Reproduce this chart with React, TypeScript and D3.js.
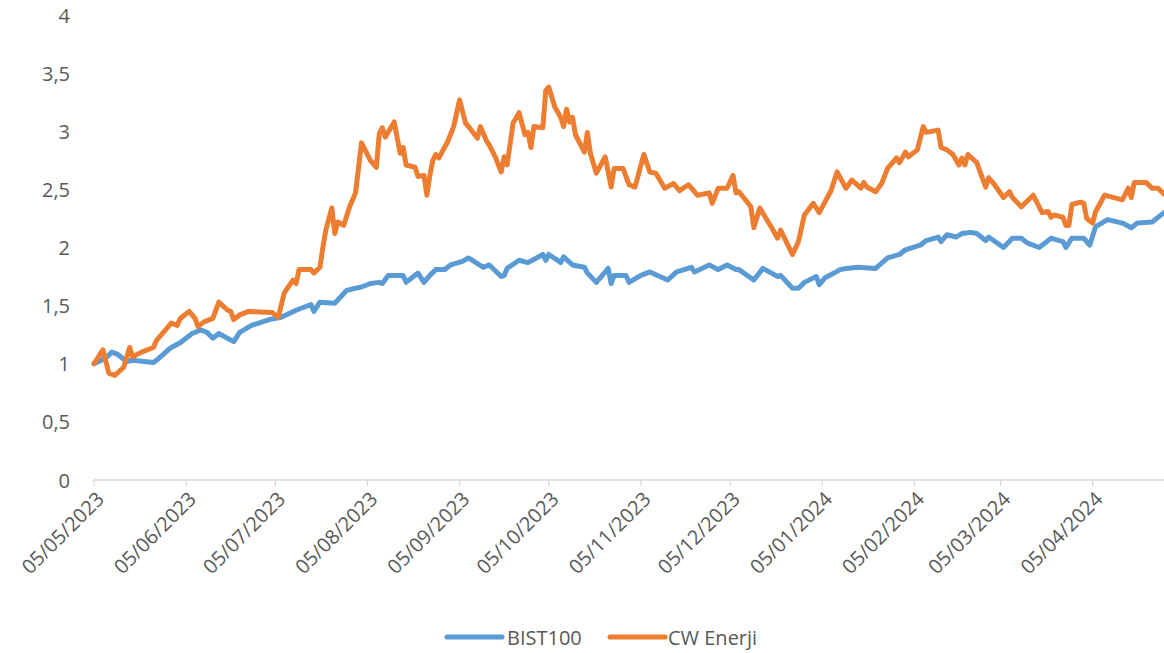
import React from "react";
import * as d3 from "d3";

const seriesNames = ["BIST100", "CW Enerji"];
const seriesColors = ["#5B9BD5", "#ED7D31"];
const yTickValues = [0, 0.5, 1, 1.5, 2, 2.5, 3, 3.5, 4];

const bistDates = [
  "2023-05-05","2023-05-09","2023-05-11","2023-05-13","2023-05-16","2023-05-18","2023-05-25","2023-05-26","2023-05-30","2023-05-31",
  "2023-06-03","2023-06-07","2023-06-10","2023-06-12","2023-06-14","2023-06-16","2023-06-21","2023-06-23","2023-06-27","2023-07-03",
  "2023-07-07","2023-07-12","2023-07-17","2023-07-18","2023-07-20","2023-07-25","2023-07-29","2023-08-01","2023-08-03","2023-08-06",
  "2023-08-09","2023-08-10","2023-08-12","2023-08-17","2023-08-18","2023-08-22","2023-08-24","2023-08-26","2023-08-28","2023-08-31",
  "2023-09-02","2023-09-06","2023-09-08","2023-09-13","2023-09-15","2023-09-19","2023-09-20","2023-09-21","2023-09-25","2023-09-28",
  "2023-10-03","2023-10-04","2023-10-05","2023-10-08","2023-10-09","2023-10-10","2023-10-13","2023-10-17","2023-10-18","2023-10-21",
  "2023-10-25","2023-10-26","2023-10-27","2023-10-31","2023-11-01","2023-11-05","2023-11-08","2023-11-14","2023-11-17","2023-11-22",
  "2023-11-23","2023-11-28","2023-12-01","2023-12-04","2023-12-07","2023-12-08","2023-12-13","2023-12-16","2023-12-21","2023-12-22",
  "2023-12-26","2023-12-28","2023-12-30","2024-01-03","2024-01-04","2024-01-06","2024-01-09","2024-01-11","2024-01-13","2024-01-17",
  "2024-01-23","2024-01-27","2024-01-31","2024-02-02","2024-02-07","2024-02-09","2024-02-13","2024-02-14","2024-02-16","2024-02-19",
  "2024-02-21","2024-02-24","2024-02-26","2024-02-29","2024-03-01","2024-03-06","2024-03-09","2024-03-12","2024-03-14","2024-03-18",
  "2024-03-22","2024-03-26","2024-03-27","2024-03-29","2024-04-02","2024-04-04","2024-04-06","2024-04-10","2024-04-15","2024-04-18",
  "2024-04-20","2024-04-25","2024-04-29"
];
const bistValues = [
  1.00,1.05,1.10,1.08,1.02,1.03,1.01,1.03,1.12,1.14,
  1.18,1.26,1.29,1.27,1.22,1.26,1.19,1.27,1.33,1.38,
  1.40,1.46,1.51,1.45,1.53,1.52,1.63,1.65,1.66,1.69,
  1.70,1.69,1.76,1.76,1.70,1.78,1.70,1.76,1.81,1.81,
  1.85,1.88,1.91,1.83,1.85,1.75,1.76,1.82,1.89,1.87,
  1.94,1.89,1.94,1.89,1.87,1.92,1.85,1.83,1.78,1.70,
  1.82,1.69,1.76,1.76,1.70,1.76,1.79,1.72,1.79,1.83,
  1.79,1.85,1.81,1.85,1.81,1.81,1.72,1.82,1.75,1.76,
  1.65,1.65,1.70,1.75,1.68,1.74,1.78,1.81,1.82,1.83,
  1.82,1.91,1.94,1.98,2.02,2.06,2.09,2.05,2.11,2.09,
  2.12,2.13,2.12,2.06,2.09,2.00,2.08,2.08,2.04,2.00,
  2.08,2.05,2.00,2.08,2.08,2.02,2.18,2.24,2.21,2.17,
  2.21,2.22,2.30
];

const cwDates = [
  "2023-05-05","2023-05-08","2023-05-10","2023-05-12","2023-05-15","2023-05-17","2023-05-18","2023-05-21","2023-05-25","2023-05-26",
  "2023-05-31","2023-06-02","2023-06-03","2023-06-06","2023-06-08","2023-06-09","2023-06-11","2023-06-14","2023-06-16","2023-06-19",
  "2023-06-20","2023-06-21","2023-06-23","2023-06-26","2023-07-04","2023-07-06","2023-07-08","2023-07-11","2023-07-12","2023-07-13",
  "2023-07-17","2023-07-18","2023-07-20","2023-07-21","2023-07-22","2023-07-24","2023-07-25","2023-07-26","2023-07-28","2023-07-30",
  "2023-08-01","2023-08-03","2023-08-06","2023-08-08","2023-08-09","2023-08-10","2023-08-11","2023-08-14","2023-08-16","2023-08-17",
  "2023-08-18","2023-08-21","2023-08-22","2023-08-24","2023-08-25","2023-08-26","2023-08-27","2023-08-28","2023-08-29","2023-09-01",
  "2023-09-03","2023-09-05","2023-09-07","2023-09-08","2023-09-11","2023-09-12","2023-09-14","2023-09-15","2023-09-17","2023-09-19",
  "2023-09-20","2023-09-21","2023-09-23","2023-09-25","2023-09-27","2023-09-28","2023-09-29","2023-09-30","2023-10-03","2023-10-04",
  "2023-10-05","2023-10-07","2023-10-09","2023-10-10","2023-10-11","2023-10-12","2023-10-13","2023-10-14","2023-10-17","2023-10-18",
  "2023-10-19","2023-10-21","2023-10-24","2023-10-26","2023-10-27","2023-10-30","2023-11-01","2023-11-03","2023-11-06","2023-11-08",
  "2023-11-10","2023-11-13","2023-11-16","2023-11-18","2023-11-21","2023-11-24","2023-11-28","2023-11-29","2023-12-01","2023-12-04",
  "2023-12-06","2023-12-07","2023-12-08","2023-12-12","2023-12-13","2023-12-15","2023-12-19","2023-12-21","2023-12-22","2023-12-26",
  "2023-12-28","2023-12-30","2024-01-02","2024-01-04","2024-01-08","2024-01-10","2024-01-13","2024-01-15","2024-01-18","2024-01-19",
  "2024-01-20","2024-01-23","2024-01-25","2024-01-27","2024-01-30","2024-01-31","2024-02-02","2024-02-03","2024-02-06","2024-02-08",
  "2024-02-09","2024-02-13","2024-02-14","2024-02-16","2024-02-18","2024-02-20","2024-02-21","2024-02-22","2024-02-23","2024-02-26",
  "2024-02-29","2024-03-01","2024-03-03","2024-03-06","2024-03-08","2024-03-09","2024-03-12","2024-03-16","2024-03-19","2024-03-21",
  "2024-03-22","2024-03-23","2024-03-26","2024-03-27","2024-03-28","2024-03-29","2024-04-01","2024-04-02","2024-04-03","2024-04-05",
  "2024-04-06","2024-04-09","2024-04-15","2024-04-17","2024-04-18","2024-04-19","2024-04-23","2024-04-25","2024-04-27","2024-04-29"
];
const cwValues = [
  1.00,1.12,0.92,0.90,0.97,1.14,1.06,1.10,1.14,1.20,
  1.35,1.33,1.39,1.45,1.39,1.32,1.36,1.39,1.53,1.46,
  1.45,1.38,1.42,1.45,1.44,1.40,1.61,1.72,1.69,1.81,
  1.81,1.78,1.83,2.00,2.15,2.34,2.12,2.22,2.19,2.35,
  2.47,2.90,2.75,2.69,2.98,3.03,2.95,3.08,2.81,2.86,
  2.71,2.69,2.61,2.62,2.45,2.62,2.75,2.80,2.77,2.91,
  3.04,3.27,3.07,3.04,2.94,3.04,2.92,2.88,2.78,2.65,
  2.78,2.71,3.07,3.16,2.97,2.99,2.86,3.04,3.03,3.35,
  3.38,3.21,3.12,3.04,3.19,3.08,3.12,2.97,2.82,2.99,
  2.81,2.64,2.78,2.52,2.68,2.68,2.54,2.52,2.80,2.65,
  2.64,2.51,2.55,2.49,2.54,2.45,2.47,2.38,2.51,2.51,
  2.62,2.47,2.48,2.35,2.17,2.34,2.17,2.08,2.15,1.94,
  2.05,2.28,2.38,2.30,2.49,2.65,2.51,2.58,2.51,2.56,
  2.52,2.48,2.55,2.68,2.77,2.73,2.82,2.78,2.84,3.04,
  2.99,3.01,2.86,2.84,2.80,2.71,2.77,2.71,2.80,2.73,
  2.52,2.60,2.54,2.43,2.48,2.43,2.35,2.45,2.30,2.31,
  2.26,2.28,2.26,2.19,2.19,2.37,2.39,2.38,2.25,2.21,
  2.31,2.45,2.41,2.51,2.43,2.56,2.56,2.51,2.51,2.46
];

const W = 1164;
const H = 653;
const FONT = "'Open Sans', sans-serif";
const TEXT = "#595959";
const AXIS = "#d9d9d9";

export default function App() {
  const parse = d3.timeParse("%Y-%m-%d");
  const x = d3
    .scaleTime()
    .domain([parse("2023-05-05")!, parse("2024-04-29")!])
    .range([94, 1164]);
  const y = d3.scaleLinear().domain([0, 4]).range([480, 15]);

  const xTicks = d3.range(0, 12).map((i) => new Date(2023, 4 + i, 5));
  const fmt = d3.timeFormat("%d/%m/%Y");

  const series = [
    { name: seriesNames[0], color: seriesColors[0], dates: bistDates, values: bistValues },
    { name: seriesNames[1], color: seriesColors[1], dates: cwDates, values: cwValues },
  ];

  const line = d3
    .line<[Date, number]>()
    .x((d) => x(d[0]))
    .y((d) => y(d[1]));

  const legendItems = [
    { lx: 447, tx: 507 },
    { lx: 610, tx: 668 },
  ];

  return (
    <svg
      width={W}
      height={H}
      style={{ position: "absolute", left: 0, top: 0, background: "#fff" }}
      fontFamily={FONT}
    >
      {yTickValues.map((v) => (
        <text
          key={v}
          x={70}
          y={y(v)}
          textAnchor="end"
          dominantBaseline="central"
          fontSize={20}
          fill={TEXT}
        >
          {String(v).replace(".", ",")}
        </text>
      ))}
      <line x1={94} x2={W} y1={y(0)} y2={y(0)} stroke={AXIS} strokeWidth={1.3} />
      {xTicks.map((t, i) => (
        <g key={i}>
          <line x1={x(t)} x2={x(t)} y1={y(0)} y2={y(0) + 6} stroke={AXIS} strokeWidth={1.3} />
          <text
            transform={`translate(${x(t) + 6},${y(0) + 15}) rotate(-45)`}
            textAnchor="end"
            dominantBaseline="central"
            fontSize={20}
            fill={TEXT}
          >
            {fmt(t)}
          </text>
        </g>
      ))}
      {series.map((s) => {
        const pts: [Date, number][] = s.dates.map((d, i) => [parse(d)!, s.values[i]]);
        return (
          <path
            key={s.name}
            d={line(pts) || ""}
            fill="none"
            stroke={s.color}
            strokeWidth={5}
            strokeLinejoin="round"
            strokeLinecap="round"
          />
        );
      })}
      {series.map((s, i) => (
        <g key={s.name}>
          <line
            x1={legendItems[i].lx}
            x2={legendItems[i].lx + 55}
            y1={637}
            y2={637}
            stroke={s.color}
            strokeWidth={5}
            strokeLinecap="round"
          />
          <text x={legendItems[i].tx} y={637} dominantBaseline="central" fontSize={20} fill={TEXT}>
            {s.name}
          </text>
        </g>
      ))}
    </svg>
  );
}
